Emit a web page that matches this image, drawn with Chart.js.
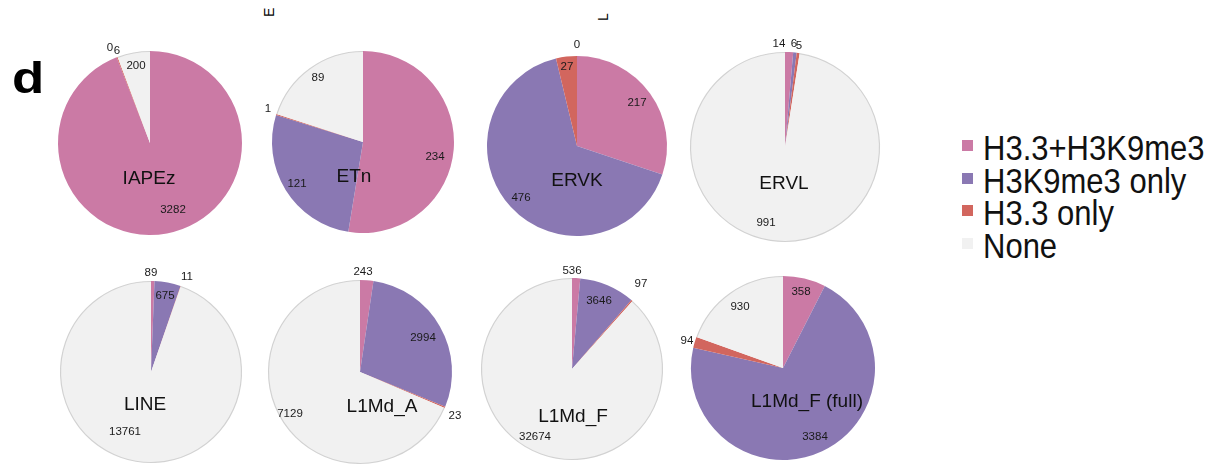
<!DOCTYPE html>
<html>
<head>
<meta charset="utf-8">
<script src="https://cdn.jsdelivr.net/npm/chart.js@4/dist/chart.umd.min.js"></script>
<style>
  html, body { margin: 0; padding: 0; background: #fff; }
  #stage { position: relative; width: 1228px; height: 465px; overflow: hidden; background: #fff;
           font-family: "Liberation Sans", Arial, Helvetica, sans-serif; }
  #stage canvas { position: absolute; }
  .panel-letter { position: absolute; left: 12px; top: 56px; font-size: 44px; font-weight: bold; color: #000;
                  line-height: 1; transform-origin: 0 0; transform: scaleX(1.2); }
  .stub { position: absolute; font-size: 14px; color: #000; line-height: 1; transform-origin: 0 0; transform: rotate(-90deg); }
  #legend { position: absolute; left: 962px; top: 133px; }
  .lg-row { position: relative; height: 32.5px; font-size: 31px; line-height: 32px; color: #111; padding-left: 21px; white-space: nowrap; }
  .lg-text { display: inline-block; transform-origin: 0 50%; transform: scaleY(1.13); }
  .lg-sw { position: absolute; left: 0; top: 7px; width: 11px; height: 11px; }
</style>
</head>
<body>
<div id="stage">
  <div class="panel-letter">d</div>
  <div class="stub" style="left:262px; top:17px;">E</div>
  <div class="stub" style="left:596px; top:21px;">L</div>
  <div id="legend"></div>
</div>
<script>
// Peak overlap categories (drawn clockwise from 12 o'clock in this order)
const seriesNames = ['H3.3+H3K9me3', 'H3K9me3 only', 'H3.3 only', 'None'];
const seriesColors = ['#cb7aa5', '#8a78b3', '#d2665e', '#f1f1f1'];

// Repeat families, one pie each
const families = ['IAPEz', 'ETn', 'ERVK', 'ERVL', 'LINE', 'L1Md_A', 'L1Md_F', 'L1Md_F (full)'];

// Element counts per family
const bothMarks = [3282, 234, 217, 14, 89, 243, 536, 358];
const k9me3Only = [0, 121, 476, 6, 675, 2994, 3646, 3384];
const h33Only   = [6, 1, 27, 5, 11, 23, 97, 94];
const noneCount = [200, 89, 0, 991, 13761, 7129, 32674, 930];

// Layout: pie centre and radius (px), family-name offset, count label offsets (px from centre)
const pieCenters = [[150, 143], [363, 142], [577, 146], [785, 147],
                    [151, 372], [360, 372], [572, 369], [783, 368]];
const pieRadius = [92, 91, 90, 95, 91, 92, 91, 92];
const nameOffsets = [[-1, 36], [-9, 35], [0, 35], [-1, 37], [-6, 33], [22, 35], [1, 48], [24, 34]];
const countOffsets = [
  [[23, 67], [-40, -95], [-33, -92], [-14, -77]],
  [[72, 15], [-66, 42], [-95, -33], [-45, -64]],
  [[60, -43], [-56, 52], [-10, -79], [0, -101]],
  [[-6, -103], [9, -103], [14, -101], [-19, 76]],
  [[0, -99], [14, -76], [36, -95], [-26, 60]],
  [[3, -100], [63, -34], [95, 44], [-70, 42]],
  [[0, -98], [27, -68], [69, -85], [-37, 68]],
  [[18, -76], [32, 69], [-96, -27], [-43, -61]]
];

const CANVAS = 240;

// Draws the count of each slice and the family name on top of the pie
const pieText = {
  id: 'pieText',
  afterDatasetsDraw(chart, args, opts) {
    const ctx = chart.ctx;
    const arcs = chart.getDatasetMeta(0).data;
    const cx = arcs[0].x, cy = arcs[0].y, r = arcs[0].outerRadius;
    ctx.save();
    // faint grey rim along the pale 'None' slice
    const pale = arcs[3];
    if (pale.endAngle - pale.startAngle > 0) {
      ctx.beginPath();
      ctx.arc(cx, cy, r - 0.5, pale.startAngle, pale.endAngle);
      ctx.strokeStyle = 'rgba(0,0,0,0.13)';
      ctx.lineWidth = 1.2;
      ctx.stroke();
    }

    ctx.textAlign = 'center';
    ctx.textBaseline = 'middle';
    ctx.fillStyle = '#1a1a1a';
    ctx.font = '11.5px "Liberation Sans", Arial, sans-serif';
    const values = chart.data.datasets[0].data;
    values.forEach((v, i) => {
      const o = opts.counts[i];
      ctx.fillText(String(v), cx + o[0], cy + o[1]);
    });
    ctx.font = '19px "Liberation Sans", Arial, sans-serif';
    ctx.fillStyle = '#111';
    ctx.fillText(opts.name, cx + opts.nameOffset[0], cy + opts.nameOffset[1]);
    ctx.restore();
  }
};

const stage = document.getElementById('stage');

families.forEach((name, idx) => {
  const cv = document.createElement('canvas');
  cv.width = CANVAS; cv.height = CANVAS;
  cv.style.left = (pieCenters[idx][0] - CANVAS / 2) + 'px';
  cv.style.top = (pieCenters[idx][1] - CANVAS / 2) + 'px';
  stage.appendChild(cv);

  new Chart(cv, {
    type: 'pie',
    data: {
      labels: seriesNames,
      datasets: [{
        data: [bothMarks[idx], k9me3Only[idx], h33Only[idx], noneCount[idx]],
        backgroundColor: seriesColors,
        borderWidth: 0,
        radius: pieRadius[idx]
      }]
    },
    options: {
      responsive: false,
      animation: false,
      events: [],
      layout: { padding: 0 },
      plugins: {
        legend: { display: false },
        tooltip: { enabled: false },
        pieText: { name: name, nameOffset: nameOffsets[idx], counts: countOffsets[idx] }
      }
    },
    plugins: [pieText]
  });
});

// Legend built from the category names and colours
const legend = document.getElementById('legend');
seriesNames.forEach((s, i) => {
  const row = document.createElement('div');
  row.className = 'lg-row';
  const sw = document.createElement('span');
  sw.className = 'lg-sw';
  sw.style.background = seriesColors[i];
  row.appendChild(sw);
  const tx = document.createElement('span');
  tx.className = 'lg-text';
  tx.textContent = s;
  row.appendChild(tx);
  legend.appendChild(row);
});
</script>
</body>
</html>
